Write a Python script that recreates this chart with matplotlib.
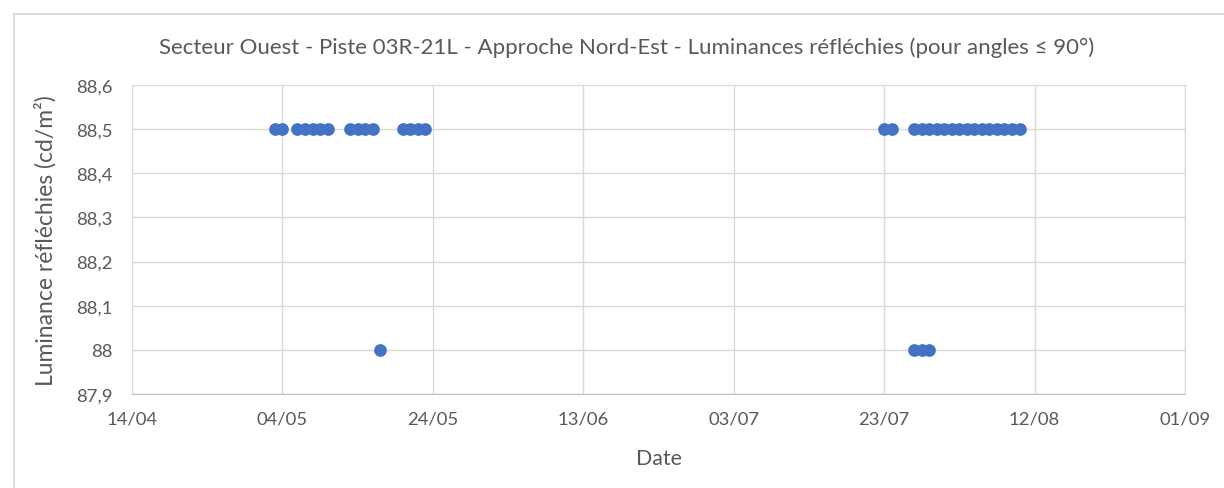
import pandas as pd
import matplotlib
matplotlib.use('Agg')
import matplotlib.pyplot as plt
import matplotlib.dates as mdates
from matplotlib.patches import Rectangle
from matplotlib.ticker import FuncFormatter

plt.rcParams['font.family'] = ['Lato', 'DejaVu Sans']

YEAR = 2021

# points at 88.5 cd/m2
high_dates = ['03/05', '04/05',
              '06/05', '07/05', '08/05', '09/05', '10/05',
              '13/05', '14/05', '15/05', '16/05',
              '20/05', '21/05', '22/05', '23/05',
              '23/07', '24/07',
              '27/07', '28/07', '29/07', '30/07', '31/07', '01/08', '02/08',
              '03/08', '04/08', '05/08', '06/08', '07/08', '08/08', '09/08', '10/08']
high_values = [88.5] * len(high_dates)

# points at 88.0 cd/m2
low_dates = ['17/05', '27/07', '28/07', '29/07']
low_values = [88.0, 88.0, 88.0, 88.0]

tick_dates = ['14/04', '04/05', '24/05', '13/06', '03/07', '23/07', '12/08', '01/09']
y_ticks = [87.9, 88.0, 88.1, 88.2, 88.3, 88.4, 88.5, 88.6]


def to_dt(labels):
    """
    Convert 'DD/MM' strings to datetimes
    """
    return pd.to_datetime([f'{d}/{YEAR}' for d in labels], format='%d/%m/%Y')


def y_fmt(v, pos):
    return f'{v:g}'.replace('.', ',')


grey_txt = '#595959'
grid_col = '#D9D9D9'
blue = '#4472C4'

fig = plt.figure(figsize=(12.24, 4.89), dpi=100)

# chart area border (Excel style)
fig.patches.append(Rectangle((14 / 1224, -0.5), 2.0, 1 - 15 / 489 + 0.5,
                             transform=fig.transFigure, fill=False,
                             edgecolor=grid_col, linewidth=1.3))

ax = fig.add_axes([132 / 1224, 1 - 395 / 489, 1053 / 1224, 309 / 489])

x_all = list(to_dt(high_dates)) + list(to_dt(low_dates))
y_all = high_values + low_values
ax.scatter(x_all, y_all, s=84, color=blue, zorder=3, linewidths=0)

ax.set_xlim(to_dt(['14/04'])[0], to_dt(['01/09'])[0])
ax.set_ylim(87.9, 88.6)
ax.set_xticks(to_dt(tick_dates))
ax.xaxis.set_major_formatter(mdates.DateFormatter('%d/%m'))
ax.set_yticks(y_ticks)
ax.yaxis.set_major_formatter(FuncFormatter(y_fmt))

ax.grid(True, color=grid_col, linewidth=1)
ax.set_axisbelow(True)
for side in ['top', 'right', 'left', 'bottom']:
    ax.spines[side].set_color(grid_col)
ax.spines['bottom'].set_color('#BFBFBF')
ax.tick_params(length=0, labelsize=13.3, labelcolor=grey_txt)
ax.tick_params(axis='x', pad=12)
ax.tick_params(axis='y', pad=14)

fig.text(627 / 1224, 1 - 48 / 489,
         'Secteur Ouest - Piste 03R-21L - Approche Nord-Est - Luminances réfléchies (pour angles ≤ 90°)',
         fontsize=16, color=grey_txt, ha='center', va='center')
ax.set_xlabel('Date', fontsize=15.4, color=grey_txt)
ax.xaxis.set_label_coords(0.5, (395 - 459) / 309)
ax.xaxis.label.set_va('center')
ax.set_ylabel('Luminance réfléchies (cd/m²)', fontsize=16.5, color=grey_txt)
ax.yaxis.set_label_coords((45 - 132) / 1053, 0.5)
ax.yaxis.label.set_va('center')

fig.savefig('out.png', dpi=100)
